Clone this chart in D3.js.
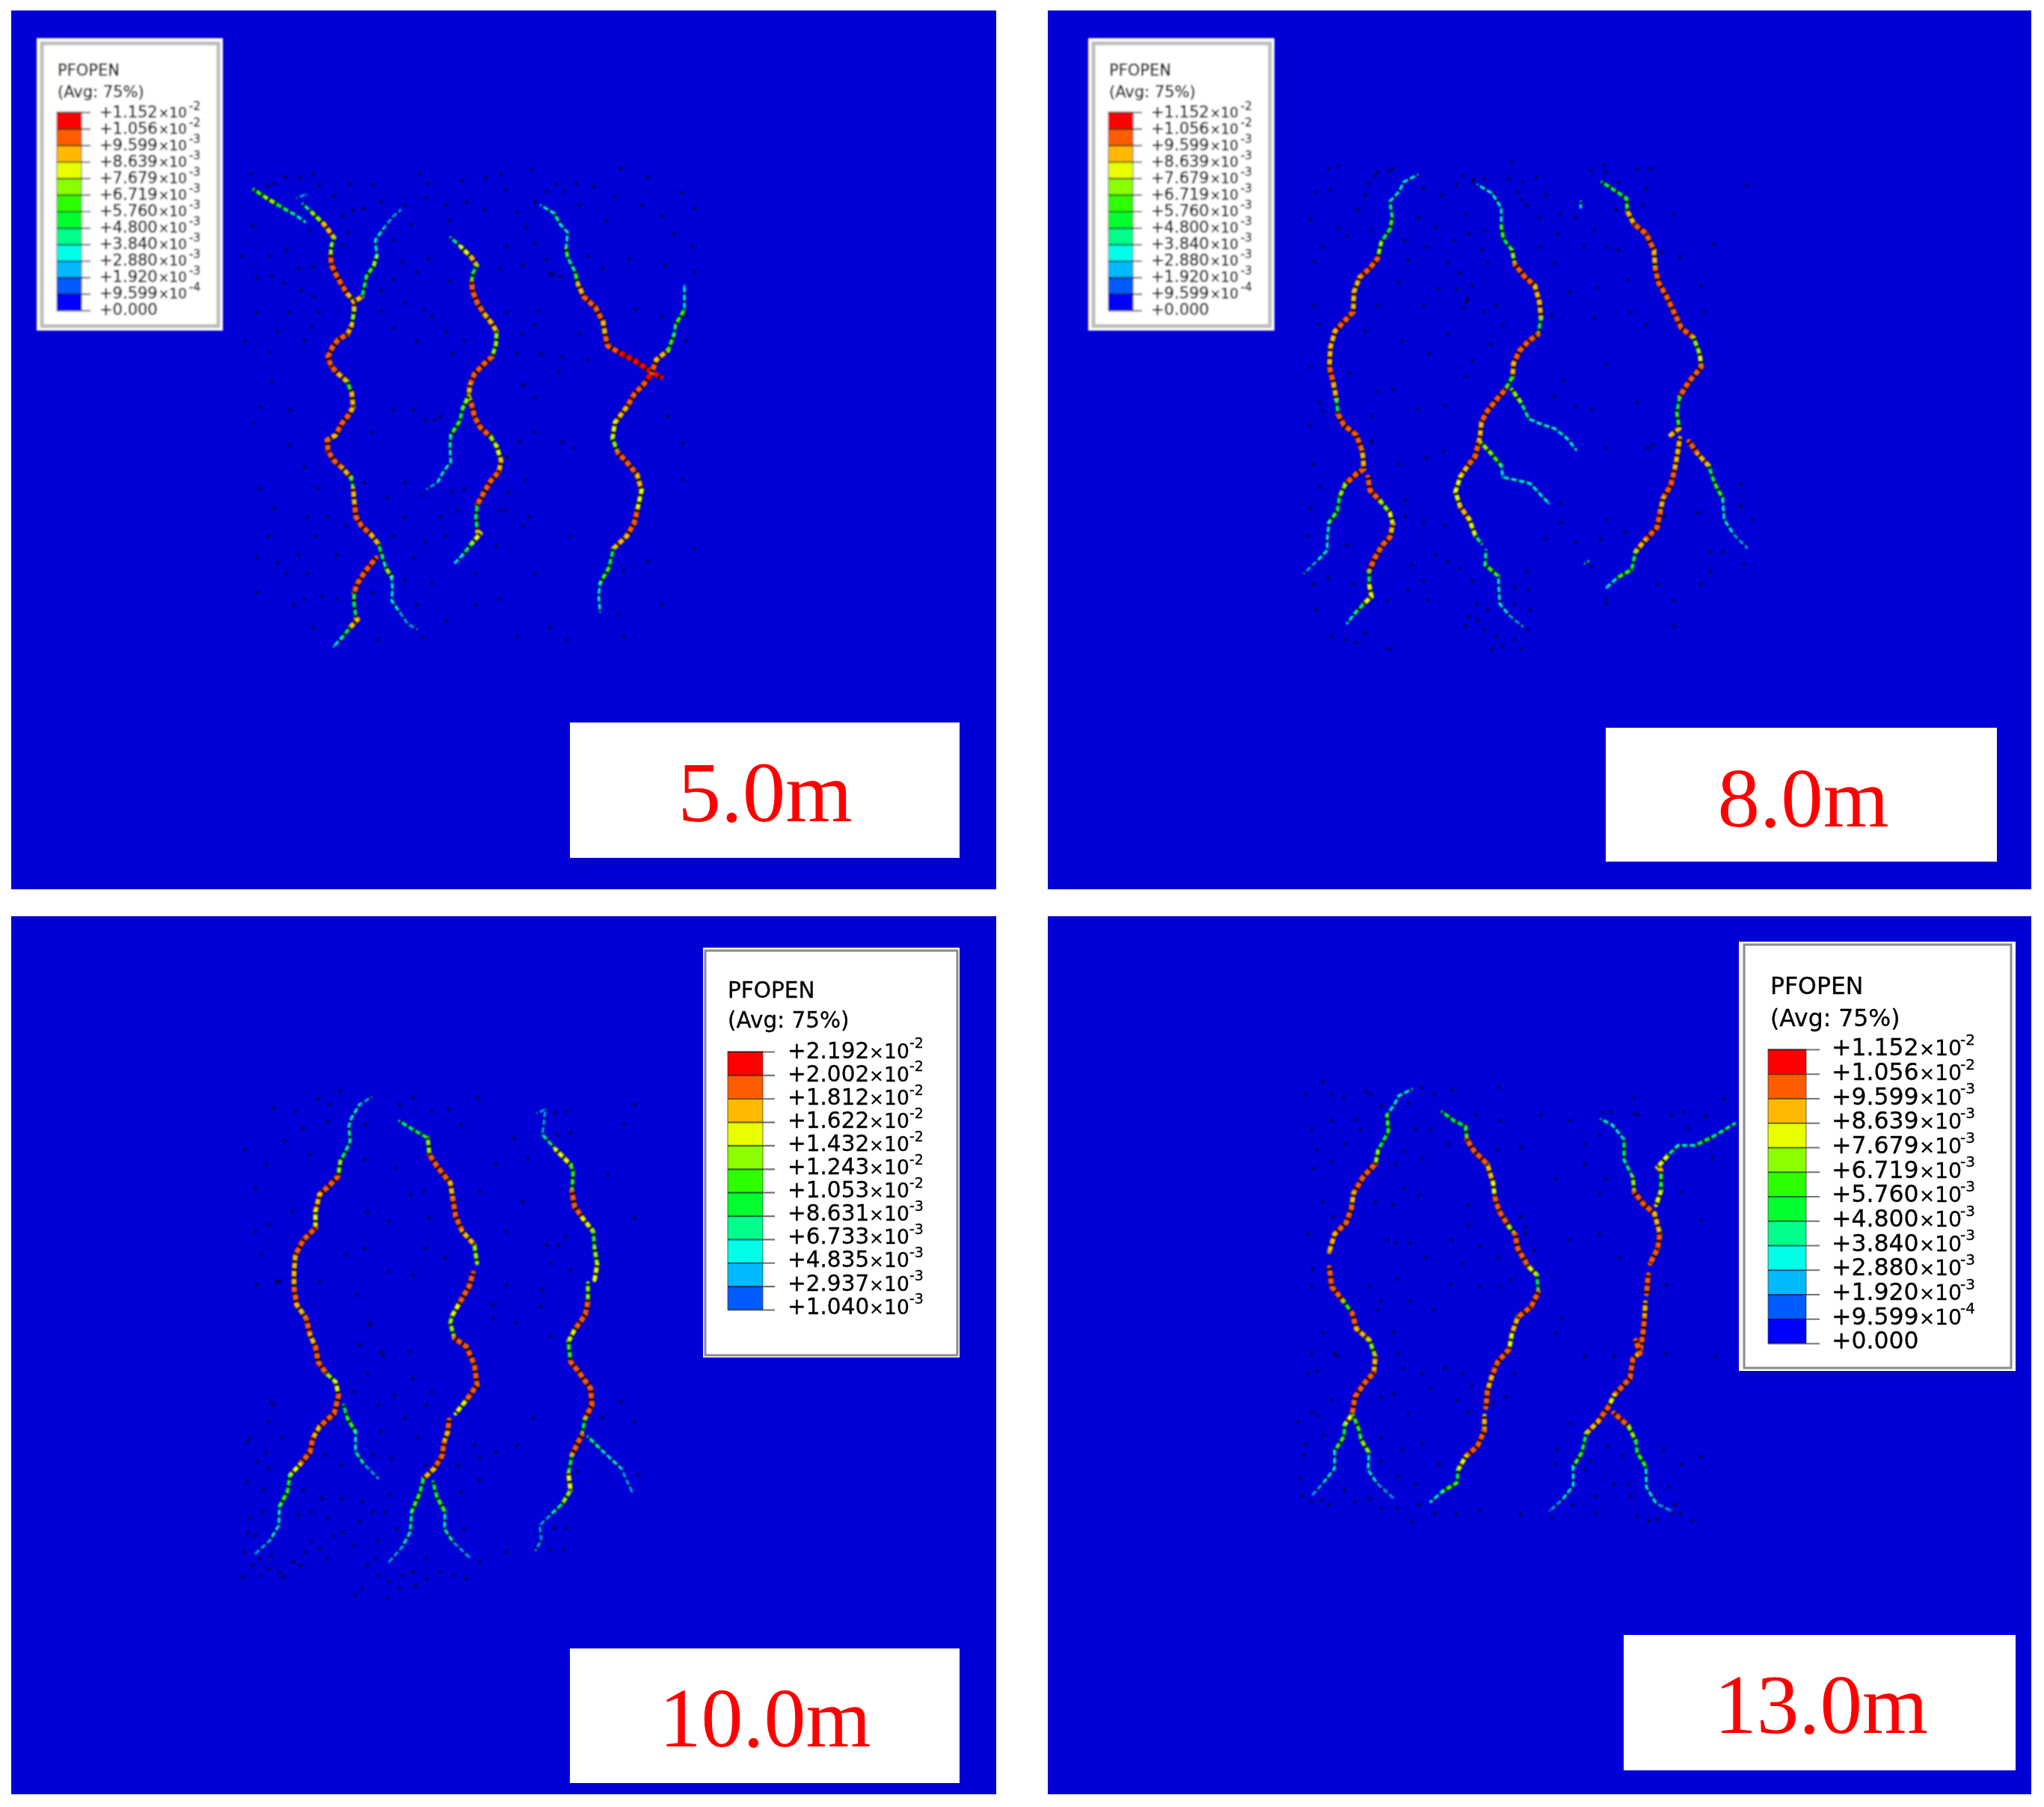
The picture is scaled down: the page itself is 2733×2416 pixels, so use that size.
<!DOCTYPE html>
<html><head><meta charset="utf-8">
<style>html,body{margin:0;padding:0;background:#fff}svg{display:block}</style>
<script src="https://cdn.jsdelivr.net/npm/d3@7"></script>
</head><body>
<svg id="c" width="2733" height="2416"></svg>
<script>
// Legend values (opening, in units of 1e-3), top to bottom
const ticksA = [11.52,10.56,9.599,8.639,7.679,6.719,5.76,4.8,3.84,2.88,1.92,0.9599,0];
const labelsA = ["+1.152","+1.056","+9.599","+8.639","+7.679","+6.719","+5.760","+4.800","+3.840","+2.880","+1.920","+9.599","+0.000"];
const expsA = ["-2","-2","-3","-3","-3","-3","-3","-3","-3","-3","-3","-4",""];
const ticksB = [21.92,20.02,18.12,16.22,14.32,12.43,10.53,8.631,6.733,4.835,2.937,1.04];
const labelsB = ["+2.192","+2.002","+1.812","+1.622","+1.432","+1.243","+1.053","+8.631","+6.733","+4.835","+2.937","+1.040"];
const expsB = ["-2","-2","-2","-2","-2","-2","-2","-3","-3","-3","-3","-3"];
const paletteA = ["#ff0000","#ff5c00","#ffb900","#e8ff00","#8bff00","#2eff00","#00ff2e","#00ff8b","#00ffe8","#00b9ff","#005cff","#0000ff"];
const paletteB = paletteA.slice(0,11);
const stageLabels = ["5.0m","8.0m","10.0m","13.0m"];

// Cracks: [x, y, opening]
const cracks1 = [
[[50,80,4],[90,105,6],[125,125,7],[160,145,5],[190,160,4],[222,182,3]],
[[195,105,2],[225,95,2]],
[[215,125,3],[245,152,4],[285,188,7],[320,232,9],[312,255,5],[308,290,7],[312,320,10],[330,355,10],[345,380,10],[365,410,10],[388,435,9],[388,465,9],[380,510,7],[365,540,9],[335,555,10],[315,580,10],[300,610,10],[310,640,10],[335,665,10],[365,690,9],[380,725,6],[385,770,9],[370,795,9],[345,825,10],[325,860,10],[297,875,9],[300,910,10],[320,940,10],[350,965,10],[378,995,9],[385,1030,5],[390,1085,9],[395,1120,10],[415,1150,10],[445,1175,10],[470,1205,9],[485,1250,5],[495,1280,4],[515,1310,7],[518,1350,3],[515,1385,3],[545,1425,3],[570,1460,2],[600,1475,2]],
[[462,1250,9],[440,1275,10],[420,1300,10],[400,1330,10],[388,1360,10],[388,1395,6],[395,1440,5],[400,1445,9],[375,1470,9],[345,1505,5],[320,1530,3]],
[[388,435,9],[415,420,9],[430,355,5],[455,320,6],[465,290,7],[460,240,3],[490,200,3],[520,165,2],[545,145,2]],
[[715,232,3],[750,262,4],[785,295,8],[803,320,9],[790,345,5],[785,375,6],[790,405,10],[805,440,10],[825,470,10],[850,500,9],[870,530,9],[868,570,7],[855,610,7],[825,635,10],[795,665,10],[780,700,10],[775,735,9],[785,760,9],[795,800,10],[815,835,10],[850,865,10],[870,895,7],[885,940,8],[878,975,9],[850,1005,10],[825,1045,10],[805,1080,10],[800,1120,5],[805,1165,5],[815,1172,9],[785,1205,8],[755,1240,5],[730,1265,3]],
[[775,735,9],[755,775,7],[745,815,5],[715,860,6],[712,900,4],[715,945,3],[690,975,3],[670,1010,3],[635,1030,2]],
[[1020,130,2],[1065,155,3],[1085,190,4],[1110,215,3],[1105,265,3],[1110,295,6],[1135,340,4],[1145,380,6],[1165,420,9],[1205,455,10],[1230,500,10],[1238,545,9],[1245,575,10],[1290,600,10],[1340,625,11],[1395,660,11],[1425,675,11]],
[[1395,660,11],[1370,695,11],[1335,730,10],[1310,770,10],[1270,820,9],[1262,870,8],[1280,915,7],[1310,945,10],[1345,985,10],[1360,1035,9],[1345,1100,8],[1335,1140,10],[1310,1180,10],[1265,1220,9],[1250,1280,5],[1220,1330,6],[1215,1370,3],[1220,1420,3]],
[[1395,660,10],[1410,620,10],[1450,590,9],[1470,540,6],[1475,510,4],[1505,460,6],[1505,385,3]]
];
const cracks2 = [
[[380,78,2],[335,100,3],[320,130,3],[290,160,3],[298,210,4],[290,245,6],[262,285,5],[250,335,7],[225,365,10],[190,395,10],[172,440,9],[170,500,9],[145,525,10],[110,560,10],[95,610,9],[92,670,9],[105,720,10],[115,770,9],[120,815,5],[140,850,10],[180,880,10],[200,930,10],[205,985,9],[180,1000,10],[145,1030,10],[125,1070,7],[118,1115,5],[90,1150,6],[85,1200,3],[85,1235,3],[55,1265,3],[10,1305,2]],
[[218,1010,10],[225,1050,10],[260,1085,10],[290,1120,7],[300,1155,8],[290,1195,9],[265,1220,10],[240,1260,10],[222,1300,10],[222,1340,5],[230,1378,8],[205,1400,8],[175,1430,5],[150,1460,3]],
[[578,108,2],[625,135,3],[655,180,3],[655,235,3],[662,275,6],[690,310,5],[700,355,7],[730,390,10],[765,420,10],[780,470,9],[785,520,9],[775,570,5],[745,590,10],[715,620,10],[695,660,10],[692,700,9],[668,740,6],[640,770,10],[610,805,10],[590,840,10],[585,885,9],[580,905,9],[570,945,10],[545,975,10],[520,1010,9],[505,1055,8],[520,1100,8],[550,1140,9],[570,1190,8],[590,1215,4]],
[[605,1235,3],[602,1280,4],[645,1315,6],[648,1370,3],[650,1400,3],[680,1435,3],[725,1470,2]],
[[690,740,7],[720,780,7],[745,830,4],[790,848,3],[830,860,3],[870,890,3],[900,925,3]],
[[590,905,6],[625,940,7],[655,975,6],[660,1010,3],[710,1020,3],[750,1030,3],[790,1070,3],[810,1090,3]],
[[985,100,3],[1025,125,5],[1065,150,5],[1068,190,6],[1090,230,9],[1130,260,10],[1155,310,10],[1160,370,9],[1170,410,10],[1195,450,10],[1220,500,10],[1245,550,10],[1285,580,10],[1305,630,7],[1310,670,8],[1270,715,10],[1240,760,10],[1230,810,5],[1238,860,6],[1210,880,9]],
[[1240,890,10],[1230,950,9],[1222,990,9],[1210,1035,10],[1185,1075,10],[1175,1120,9],[1165,1165,10],[1125,1205,10],[1095,1240,9],[1082,1295,5],[1035,1320,6],[1000,1350,3]],
[[1270,900,10],[1300,940,10],[1335,975,9],[1352,1025,5],[1380,1075,6],[1385,1140,3],[1415,1185,3],[1460,1228,2]],
[[915,160,3],[915,178,3]],
[[930,1275,3],[940,1270,3]]
];
const cracks3 = [
[[495,38,2],[450,60,4],[420,100,6],[410,125,6],[415,170,7],[395,205,8],[378,230,10],[370,275,13],[340,300,19],[300,330,19],[285,380,17],[285,430,16],[240,465,19],[210,510,19],[205,560,17],[205,610,17],[215,660,19],[250,700,17],[265,750,19],[285,785,17],[295,830,19],[325,865,19],[360,890,13],[372,930,15],[355,985,19],[300,1025,19],[275,1060,17],[265,1100,19],[225,1140,19],[190,1170,15],[180,1220,10],[150,1265,12],[148,1320,6],[115,1365,6],[60,1405,4]],
[[390,960,9],[405,1000,9],[435,1040,12],[435,1100,6],[465,1135,7],[520,1180,4]],
[[600,110,3],[650,135,8],[705,160,9],[712,210,14],[740,245,19],[790,295,19],[800,345,17],[810,395,19],[835,440,19],[880,480,17],[890,535,14]],
[[875,565,19],[860,605,19],[820,660,19],[795,695,15],[790,715,13],[805,760,13],[850,785,19],[880,840,19],[890,900,19],[850,945,19],[810,985,15]],
[[785,1005,17],[780,1040,19],[765,1075,17],[760,1110,19],[730,1150,19],[690,1180,17],[675,1225,10],[645,1280,12],[640,1340,7],[610,1385,6],[560,1430,4]],
[[725,1190,10],[740,1235,10],[770,1280,12],[768,1330,6],[800,1370,7],[860,1415,4]],
[[1115,85,4],[1145,75,4],[1140,115,4],[1135,150,4],[1185,195,7],[1240,240,16],[1250,260,11],[1245,320,11],[1255,365,19],[1285,400,19],[1325,440,15],[1330,490,11],[1340,540,14],[1330,585,15]],
[[1305,595,11],[1305,650,13],[1295,690,19],[1255,735,19],[1232,770,15],[1240,830,12],[1270,860,19],[1315,910,19],[1320,960,19],[1295,1000,19],[1282,1050,10],[1245,1110,19],[1232,1165,10],[1240,1215,16],[1210,1255,13],[1170,1285,7],[1125,1320,4],[1130,1365,4],[1110,1395,4]],
[[1305,1055,6],[1350,1090,8],[1390,1120,5],[1430,1150,6],[1470,1220,4]]
];
const cracks4 = [
[[405,42,2],[360,65,3],[345,95,3],[320,130,3],[325,185,6],[310,215,5],[290,250,5],[280,300,7],[240,340,10],[205,400,10],[198,450,9],[180,500,10],[140,540,10],[122,600,9]],
[[122,655,9],[130,720,10],[170,770,10],[200,810,6],[215,865,10],[260,905,9],[280,960,7],[275,1015,9],[240,1055,10],[210,1100,10],[200,1160,10],[175,1195,8],[172,1235,5],[140,1285,6],[140,1345,3],[105,1390,3],[65,1435,2]],
[[205,1165,9],[225,1215,6],[230,1245,5],[258,1290,7],[255,1350,3],[285,1395,3],[340,1445,2]],
[[510,120,3],[550,150,5],[590,170,5],[595,215,6],[620,255,10],[665,300,10],[685,365,9],[690,410,8],[705,460,10],[740,515,10],[760,540,7],[770,590,10],[805,650,10],[835,680,8],[840,740,5],[815,790,10],[770,825,10],[750,880,9],[740,935,8],[700,980,10],[680,1030,10],[665,1080,9],[660,1135,10]],
[[655,1165,8],[655,1215,9],[630,1270,10],[590,1305,10],[565,1350,8],[560,1395,5],[510,1425,6],[470,1460,3]],
[[1055,145,2],[1095,165,3],[1135,215,3],[1135,285,5],[1165,345,4],[1170,395,7],[1200,435,10],[1240,470,10],[1258,540,9],[1250,590,10],[1225,640,10]],
[[1218,680,9],[1212,745,10]],
[[1208,775,9],[1205,830,9],[1200,880,10],[1190,945,10],[1165,970,9],[1155,1035,10],[1100,1095,10],[1080,1135,8],[1045,1185,10],[1005,1225,9],[990,1290,5],[960,1340,6],[960,1405,3],[925,1450,3],[880,1490,2]],
[[1245,440,10],[1262,390,8],[1262,320,6],[1250,310,9],[1285,270,8],[1320,235,4],[1380,235,3],[1440,205,5],[1515,160,4]],
[[1100,1155,10],[1150,1200,10],[1175,1250,7],[1180,1290,5],[1210,1340,6],[1212,1410,3],[1245,1465,3],[1295,1490,2]],
[[1175,905,9],[1190,950,10]]
];

// Speckle positions
const specks1 = [[95,68],[155,40],[205,42],[270,65],[375,62],[450,65],[610,32],[755,52],[835,42],[885,32],[990,15],[1100,85],[1290,12],[1380,40],[1495,90],[1540,140],[45,195],[160,270],[240,210],[350,255],[385,145],[520,240],[580,190],[630,105],[710,175],[830,145],[905,260],[970,200],[1000,120],[1140,60],[1240,180],[1320,300],[1440,320],[1530,260],[10,290],[110,355],[150,375],[250,325],[270,470],[520,365],[480,465],[625,460],[710,370],[720,600],[905,470],[1010,465],[1050,345],[1085,355],[1230,330],[1340,460],[1510,560],[20,560],[105,595],[220,560],[245,515],[560,440],[940,600],[1000,510],[1180,290],[45,820],[170,890],[220,960],[265,1030],[60,1250],[130,1265],[230,1300],[330,1240],[560,1120],[590,1250],[660,810],[720,1040],[760,1030],[800,1300],[870,1210],[900,1100],[980,1120],[1000,1300],[1280,1430],[1430,1395],[1500,1000],[1540,1220],[185,1400],[250,1470],[330,1380],[470,1510],[620,1500],[940,1500],[1110,1510],
[40,30],[120,60],[250,30],[320,100],[350,165],[370,215],[420,140],[480,120],[560,130],[640,60],[700,130],[770,120],[900,80],[940,150],[1040,85],[1070,60],[1150,130],[1200,70],[1270,100],[1360,130],[1430,165],[1470,220],[1540,340],[1000,250],[1040,300],[1060,350],[960,320],[880,330],[640,300],[600,340],[550,310],[520,365],[480,400],[200,330],[105,290],[60,360],[210,400],[250,420],[170,470],[130,530],[60,470],[520,520],[600,560],[650,480],[700,530],[760,560],[955,540],[1020,600],[1090,610],[1150,540],[1180,620],[1430,480],[1510,480],[960,700],[1080,660],[1000,740],[590,780],[630,810],[680,800],[520,780],[450,850],[170,780],[110,690],[70,770],[950,880],[905,930],[1000,850],[1090,880],[1130,900],[1450,800],[1500,885],[420,1010],[500,1060],[560,1010],[620,1050],[680,1120],[740,1100],[910,1040],[970,1000],[120,1090],[70,1030],[230,1120],[300,1120],[260,1180],[360,1150],[520,1180],[630,1200],[700,1180],[880,1100],[960,1150],[1120,1180],[1300,1290],[1380,1260],[100,1180],[200,1240],[280,1370],[450,1360],[560,1320],[650,1330],[800,1400],[880,1380],[1050,1470],[1300,1500],[160,1300],[60,1360],[220,1380],[600,1400],[700,1450]];
const specks2 = [[95,125],[120,50],[220,105],[250,70],[285,65],[530,80],[565,90],[690,40],[725,100],[770,85],[990,48],[950,65],[1145,60],[1460,110],[40,345],[150,265],[185,185],[340,280],[385,210],[440,240],[540,200],[590,310],[520,380],[780,210],[720,155],[840,260],[1030,185],[970,425],[925,300],[1180,315],[30,215],[30,670],[70,805],[160,690],[210,560],[250,745],[330,590],[420,630],[480,570],[530,490],[545,460],[620,600],[860,710],[900,790],[1000,660],[1070,400],[1135,920],[1320,500],[380,800],[410,950],[465,930],[30,1105],[20,1190],[150,1220],[340,1080],[360,1280],[415,1390],[470,1160],[700,1350],[745,1360],[800,1200],[850,1090],[900,1210],[1000,1140],[950,1285],[1190,1130],[1310,1340],[1440,1030],[1380,1240],[1000,1385],[600,1480],[640,1500],[700,1510],[740,1480],[575,1400],[550,1440],[625,1540],[180,1520],[290,1540],[145,1510],[210,1490],[1220,1470],[1340,1300],[1480,1140],
[240,80],[300,60],[210,140],[90,60],[50,130],[400,120],[460,140],[510,110],[560,100],[600,90],[680,90],[710,130],[740,170],[800,140],[1000,70],[1040,100],[1100,60],[1130,120],[230,250],[120,240],[70,300],[350,340],[410,300],[500,280],[550,260],[600,250],[610,350],[560,420],[510,430],[540,470],[480,350],[780,300],[830,350],[850,200],[900,210],[960,250],[1000,300],[1040,310],[1120,170],[1220,200],[1240,330],[1350,290],[40,480],[60,540],[250,480],[320,410],[400,480],[450,430],[600,500],[660,540],[640,480],[820,510],[880,440],[960,520],[1080,500],[1130,540],[1310,420],[60,780],[30,850],[230,820],[300,740],[470,790],[540,700],[560,650],[830,760],[950,800],[1000,920],[1100,780],[1150,910],[230,900],[320,970],[40,970],[60,1040],[340,1130],[400,1150],[440,1250],[480,1270],[850,1150],[980,1200],[1060,1180],[1300,1120],[1440,1100],[1450,1280],[1340,1240],[40,1340],[90,1320],[170,1340],[280,1390],[350,1360],[400,1330],[520,1290],[560,1330],[740,1300],[580,1450],[610,1420],[700,1400],[750,1420],[660,1530],[720,1540],[540,1470],[50,1420],[100,1500],[1000,1400],[1170,1340],[1220,1390]];
const specks3 = [[130,70],[295,42],[340,60],[375,20],[470,120],[650,40],[785,75],[895,40],[1180,85],[1225,80],[1190,150],[1240,145],[1480,60],[20,195],[210,80],[265,210],[470,225],[585,250],[690,320],[1150,480],[1195,480],[1225,455],[1165,535],[1240,555],[1135,615],[1130,665],[1165,755],[1035,715],[950,660],[65,600],[140,590],[440,630],[490,715],[530,800],[650,880],[720,920],[430,920],[120,950],[30,1070],[100,1100],[570,1120],[700,1140],[900,1185],[1265,1160],[1180,1330],[1225,1330],[1165,1395],[1215,1395],[1495,1170],[90,1215],[240,1215],[310,1240],[385,1240],[460,1250],[545,1280],[830,1220],[840,1330],[30,1345],[75,1420],[15,1475],[165,1475],[270,1370],[355,1350],[520,1365],[510,1420],[660,1500],[435,1530],[555,1540],[900,1430],[1000,1400],[120,1410],[230,1440],[330,1420],[430,1380],[700,1420],[610,1470],
[20,1400],[50,1440],[80,1470],[110,1450],[150,1460],[200,1430],[250,1400],[300,1390],[60,1350],[40,1300],[90,1280],[220,1290],[270,1280],[330,1300],[390,1340],[450,1310],[500,1280],[560,1230],[590,1330],[480,1440],[520,1470],[560,1490],[600,1510],[650,1460],[700,1480],[750,1460],[800,1470],[850,1480],[460,1510],[30,1190],[110,1150],[130,960],[110,1010],[160,1060],[40,1060],[70,1130],[320,1110],[380,1140],[500,1110],[530,1040],[620,1000],[670,1060],[700,960],[480,870],[520,960],[580,930],[640,800],[490,720],[450,780],[540,810],[650,880],[880,1080],[820,1140],[900,1120],[960,1100],[1040,1080],[1100,1000],[1430,950],[1480,1010],[1360,1000],[950,700],[1000,600],[470,490],[400,510],[560,560],[650,570],[700,490],[770,520],[300,590],[150,590],[80,510],[110,420],[200,380],[60,440],[480,380],[560,410],[640,330],[710,400],[900,320],[960,240],[1030,160],[1080,220],[1060,350],[1000,440],[1380,270],[1480,400],[1440,120],[330,110],[240,130],[170,170],[100,240],[60,310],[600,60],[720,80],[830,120]];
const specks4 = [[100,15],[265,60],[395,90],[545,45],[705,35],[1090,120],[1170,70],[1480,75],[130,60],[60,180],[215,145],[180,230],[380,255],[470,180],[625,130],[710,150],[850,130],[1075,350],[1185,130],[1355,175],[1415,135],[70,315],[350,300],[430,405],[600,440],[1280,715],[780,480],[800,515],[795,540],[825,595],[745,695],[710,720],[355,695],[455,620],[350,570],[135,480],[65,660],[920,830],[1330,395],[1400,490],[60,950],[150,960],[290,800],[345,875],[375,1000],[345,1090],[470,1070],[580,1020],[730,1100],[685,1120],[395,1160],[80,1010],[15,1185],[85,1165],[35,1300],[300,1240],[370,1280],[440,1260],[905,1280],[1020,1320],[1270,1280],[1330,1330],[1150,1400],[1290,1410],[1400,1305],[1300,1500],[1370,1525],[1220,1525],[885,1515],[20,1380],[95,1455],[175,1420],[260,1450],[355,1480],[405,1530],[485,1500],[640,1490],[1040,1500],
[40,60],[170,70],[250,50],[300,100],[440,35],[480,60],[230,180],[130,150],[80,250],[260,300],[130,290],[420,180],[440,280],[530,230],[700,250],[780,240],[950,150],[1000,230],[1050,200],[1060,120],[1170,125],[1300,130],[1340,120],[1440,280],[1000,300],[1050,400],[900,350],[380,380],[340,440],[280,430],[100,430],[50,540],[320,560],[400,570],[540,560],[600,510],[640,580],[700,620],[950,560],[1050,540],[1120,620],[60,720],[260,720],[300,770],[400,770],[480,800],[540,710],[580,640],[640,720],[900,880],[1000,960],[1100,960],[1280,950],[1450,960],[100,880],[140,950],[50,1020],[360,950],[440,1020],[520,1000],[610,1060],[760,1020],[130,1110],[60,1150],[300,1100],[560,1110],[600,1150],[1080,1270],[1130,1300],[950,1190],[900,1330],[1000,1350],[40,1260],[100,1230],[300,1320],[360,1370],[420,1400],[500,1330],[1100,1400],[1040,1440],[960,1470],[1160,1440],[1250,1520],[1330,1500],[60,1460],[120,1470],[210,1460],[300,1480],[430,1470],[560,1500],[780,1500],[30,1440],[1180,1510],[1310,1470]];

const svg = d3.select("#c");
const defs = svg.append("defs");
[["blurA",0.8],["blurL",0.85],["blurS",0.55]].forEach(([id,s])=>{
  defs.append("filter").attr("id",id).attr("x","-5%").attr("y","-5%").attr("width","110%").attr("height","110%")
    .append("feGaussianBlur").attr("stdDeviation",s);
});

const panels = [
 {rect:[15,14,1332,1189],crop:[320,220,620,660],cracks:cracks1,specks:specks1,ticks:ticksA,labels:labelsA,exps:expsA,pal:paletteA,
  lg:{box:[49,51,298,442],border:[56,58,292,436],bw:5,bc:"#bdbdbd",bar:[76,109,150,415],tick:121,lx:133,fs:21,xTimes:212,xTen:226,xExp:253,fsExp:15,title:[77,101,130],blur:"blurL",rows:[149,413],ink:0.45},
  tag:{box:[762,966,1283,1147],cx:1023,base:1098,fs:115}},
 {rect:[1401,14,2716,1189],crop:[1740,200,640,680],cracks:cracks2,specks:specks2,ticks:ticksA,labels:labelsA,exps:expsA,pal:paletteA,
  lg:{box:[1455,51,1704,442],border:[1462,58,1698,436],bw:5,bc:"#bdbdbd",bar:[1482,1515,150,415],tick:1527,lx:1539,fs:21,xTimes:1618,xTen:1632,xExp:1659,fsExp:15,title:[1483,101,130],blur:"blurL",rows:[149,413],ink:0.45},
  tag:{box:[2147,973,2670,1152],cx:2411,base:1105,fs:113}},
 {rect:[15,1225,1332,2399],crop:[320,1450,560,700],cracks:cracks3,specks:specks3,ticks:ticksB,labels:labelsB,exps:expsB,pal:paletteB,
  lg:{box:[940,1267,1283,1815],border:[943,1271,1280,1812],bw:3,bc:"#8a8a8a",bar:[973,1020,1406,1751],tick:1036,lx:1053,fs:29.5,xTimes:1162,xTen:1182,xExp:1216,fsExp:19,title:[973,1334,1374],blur:"blurS",rows:[1404,1746],ink:0.3},
  tag:{box:[762,2204,1283,2384],cx:1023,base:2335,fs:112}},
 {rect:[1401,1225,2716,2399],crop:[1730,1440,610,610],cracks:cracks4,specks:specks4,ticks:ticksA,labels:labelsA,exps:expsA,pal:paletteA,
  lg:{box:[2325,1259,2695,1833],border:[2332,1263,2689,1829],bw:3,bc:"#8a8a8a",bar:[2364,2415,1403,1796],tick:2433,lx:2449,fs:31.5,xTimes:2566,xTen:2587,xExp:2621,fsExp:20,title:[2367,1329,1372],blur:"blurS",rows:[1400,1792],ink:0.3},
  tag:{box:[2171,2186,2695,2367],cx:2435,base:2317,fs:113}}
];

const FONT = "'DejaVu Sans', Verdana, sans-serif";

panels.forEach((p,pi)=>{
  const g = svg.append("g").attr("class","panel");
  const [rx0,ry0,rx1,ry1] = p.rect;
  g.append("rect").attr("x",rx0).attr("y",ry0).attr("width",rx1-rx0).attr("height",ry1-ry0).attr("fill","#0000d7");

  const x = d3.scaleLinear().domain([0,1568]).range([p.crop[0],p.crop[0]+p.crop[2]]);
  const y = d3.scaleLinear().domain([0,1568]).range([p.crop[1],p.crop[1]+p.crop[3]]);
  const asc = p.ticks.slice().reverse();
  const color = d3.scaleThreshold().domain(asc.slice(1,-1)).range(p.pal.slice().reverse());
  const vMax = p.ticks[0];
  const width = d3.scaleLinear().domain([0.15*vMax,0.88*vMax]).range([2.6,6.8]).clamp(true);

  const mesh = g.append("g").attr("filter","url(#blurA)");
  mesh.append("g").selectAll("rect").data(p.specks).join("rect")
    .attr("x",d=>x(d[0])-1.8).attr("y",d=>y(d[1])-1.8).attr("width",3.6).attr("height",3.6).attr("fill","#00001e");

  p.cracks.forEach(cr=>{
    const segs = d3.pairs(cr);
    let cum = 0;
    const cg = mesh.append("g");
    segs.forEach(([a,b])=>{
      const x1=x(a[0]),y1=y(a[1]),x2=x(b[0]),y2=y(b[1]);
      const w=width(b[2]), v=b[2];
      cg.append("line").attr("x1",x1).attr("y1",y1).attr("x2",x2).attr("y2",y2)
        .attr("stroke",color(v)).attr("stroke-width",w).attr("stroke-linecap","round");
    });
    segs.forEach(([a,b])=>{
      const x1=x(a[0]),y1=y(a[1]),x2=x(b[0]),y2=y(b[1]);
      const w=width(b[2]);
      cg.append("line").attr("x1",x1).attr("y1",y1).attr("x2",x2).attr("y2",y2)
        .attr("stroke","#000").attr("stroke-width",w+0.8)
        .attr("stroke-dasharray","4.2 6.4").attr("stroke-dashoffset",cum);
      cum += Math.hypot(x2-x1,y2-y1);
    });
  });

  // legend
  const L = p.lg;
  const lg = g.append("g").attr("filter",`url(#${L.blur})`);
  lg.append("rect").attr("x",L.box[0]).attr("y",L.box[1]).attr("width",L.box[2]-L.box[0]).attr("height",L.box[3]-L.box[1]).attr("fill","#fff");
  lg.append("rect").attr("x",L.border[0]).attr("y",L.border[1]).attr("width",L.border[2]-L.border[0]).attr("height",L.border[3]-L.border[1])
    .attr("fill","none").attr("stroke",L.bc).attr("stroke-width",L.bw);
  const rows = d3.scalePoint().domain(d3.range(p.ticks.length)).range([L.bar[2],L.bar[3]]);
  const rowsT = d3.scalePoint().domain(d3.range(p.ticks.length)).range(L.rows);
  lg.append("g").selectAll("rect").data(p.pal).join("rect")
    .attr("x",L.bar[0]).attr("width",L.bar[1]-L.bar[0])
    .attr("y",(d,i)=>rows(i)).attr("height",(d,i)=>rows(i+1)-rows(i)).attr("fill",d=>d);
  const axis = d3.axisRight(rows).tickSize(L.tick-L.bar[0]).tickFormat("");
  const ag = lg.append("g").attr("transform",`translate(${L.bar[0]},0)`).call(axis);
  ag.select(".domain").remove();
  ag.selectAll("line").attr("stroke","#000").attr("stroke-opacity",0.55).attr("stroke-width",2.2);
  lg.append("rect").attr("x",L.bar[0]).attr("y",L.bar[2]).attr("width",L.bar[1]-L.bar[0]).attr("height",L.bar[3]-L.bar[2])
    .attr("fill","none").attr("stroke","#333").attr("stroke-opacity",0.6).attr("stroke-width",1.2);

  const ink = s=>s.attr("stroke","#000").attr("stroke-width",L.ink).attr("fill","#000").attr("font-family",FONT);
  lg.append("text").text("PFOPEN").attr("x",L.title[0]).attr("y",L.title[1]).attr("font-size",L.fs).call(ink);
  lg.append("text").text("(Avg: 75%)").attr("x",L.title[0]).attr("y",L.title[2]).attr("font-size",L.fs).call(ink);

  p.labels.forEach((lab,i)=>{
    const yy = rowsT(i)+L.fs*0.36;
    const t = lg.append("text").attr("font-size",L.fs).attr("y",yy).call(ink);
    t.append("tspan").attr("x",L.lx).text(lab);
    if(p.exps[i]){
      t.append("tspan").attr("x",L.xTimes).attr("font-size",L.fs*0.8).text("×");
      t.append("tspan").attr("x",L.xTen).attr("font-size",L.fs*0.9).text("10");
      t.append("tspan").attr("x",L.xExp).attr("font-size",L.fsExp).attr("dy",-L.fs*0.45).text(p.exps[i]);
    }
  });

  // stage label
  const T = p.tag;
  g.append("rect").attr("x",T.box[0]).attr("y",T.box[1]).attr("width",T.box[2]-T.box[0]).attr("height",T.box[3]-T.box[1]).attr("fill","#fff");
  g.append("text").text(stageLabels[pi]).attr("x",T.cx).attr("y",T.base).attr("text-anchor","middle")
    .attr("font-family","'Liberation Serif','Times New Roman',serif").attr("font-size",T.fs).attr("fill","#ff0000");
});
</script>
</body></html>
